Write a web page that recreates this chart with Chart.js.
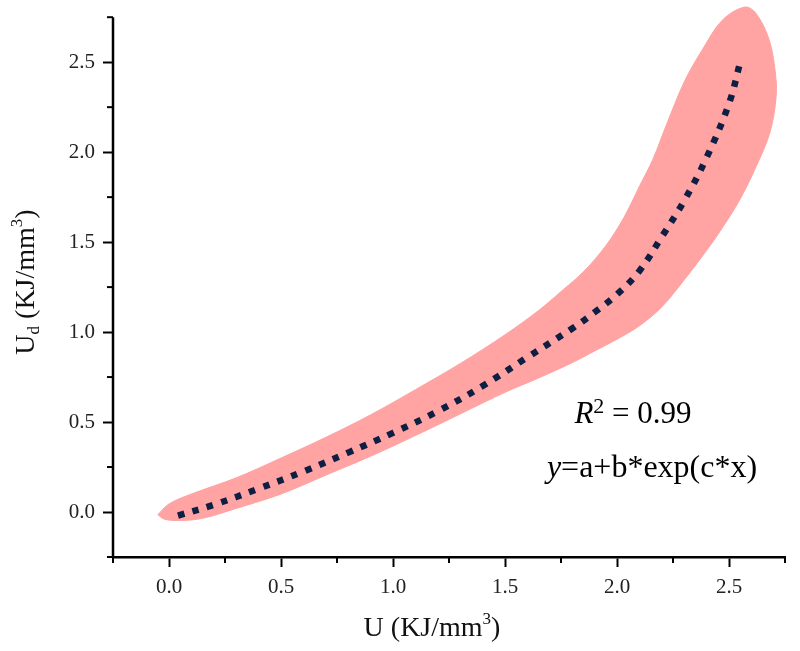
<!DOCTYPE html>
<html>
<head>
<meta charset="utf-8">
<script src="https://cdn.jsdelivr.net/npm/chart.js@4/dist/chart.umd.min.js"></script>
<style>
  html, body { margin: 0; padding: 0; background: #fff; }
  #wrap { width: 800px; height: 651px; }
</style>
</head>
<body>
<div id="wrap"><canvas id="fitChart"></canvas></div>
<script>
// fitted curve y = a + b*exp(c*x)
const fitX = [0.04, 0.2, 0.4, 0.6, 0.8, 1.0, 1.2, 1.4, 1.6, 1.8, 1.9, 2.0, 2.1, 2.2, 2.3, 2.4, 2.5, 2.55];
const fitY = [-0.02, 0.04, 0.13, 0.225, 0.33, 0.44, 0.56, 0.7, 0.86, 1.02, 1.11, 1.21, 1.34, 1.53, 1.73, 1.97, 2.27, 2.5];

// outline of the shaded band, going round it (upper edge, right end, lower edge)
const bandX = [-0.05, 0.0, 0.1, 0.3, 0.5, 0.7, 0.9, 1.1, 1.3, 1.5, 1.65, 1.75, 1.85, 1.95, 2.03, 2.1, 2.16, 2.22, 2.3, 2.38, 2.47, 2.57,
  2.62, 2.68, 2.709, 2.709, 2.682, 2.62, 2.55, 2.46, 2.38, 2.3, 2.2, 2.1, 2.0, 1.9, 1.8, 1.65, 1.5, 1.3, 1.1, 0.9, 0.7, 0.5, 0.3, 0.15, 0.05, -0.02, -0.05];
const bandY = [-0.015, 0.045, 0.1, 0.19, 0.3, 0.415, 0.54, 0.68, 0.825, 0.985, 1.12, 1.225, 1.335, 1.48, 1.635, 1.81, 1.96, 2.15, 2.39, 2.567, 2.733, 2.806,
  2.772, 2.622, 2.417, 2.289, 2.106, 1.917, 1.74, 1.56, 1.42, 1.29, 1.14, 1.035, 0.96, 0.895, 0.83, 0.745, 0.665, 0.545, 0.425, 0.31, 0.205, 0.1, 0.02, -0.035, -0.047, -0.04, -0.015];

const xTicks = [0, 0.5, 1.0, 1.5, 2.0, 2.5];
const yTicks = [0, 0.5, 1.0, 1.5, 2.0, 2.5];
const minorTicks = [-0.25, 0.25, 0.75, 1.25, 1.75, 2.25, 2.75];

const serif = "'Liberation Serif', 'Times New Roman', serif";

function drawParts(ctx, parts, x, y) {
  let total = 0;
  parts.forEach((p) => {
    ctx.font = (p.style || "") + " " + p.size + "px " + (p.family || serif);
    p.w = ctx.measureText(p.t).width;
    total += p.w;
  });
  let cx = x - total / 2;
  parts.forEach((p) => {
    ctx.font = (p.style || "") + " " + p.size + "px " + (p.family || serif);
    ctx.fillText(p.t, cx, y + (p.dy || 0));
    cx += p.w;
  });
}

const decorPlugin = {
  id: "decor",
  afterDraw(chart) {
    const ctx = chart.ctx;
    const xs = chart.scales.x;
    const ys = chart.scales.y;
    const area = chart.chartArea;
    ctx.save();
    ctx.strokeStyle = "#000";

    // y axis line stops at 2.75
    ctx.lineWidth = 2.5;
    ctx.beginPath();
    ctx.moveTo(area.left, area.bottom + 1);
    ctx.lineTo(area.left, ys.getPixelForValue(2.75));
    ctx.stroke();

    ctx.lineWidth = 2;
    minorTicks.forEach((v) => {
      const px = xs.getPixelForValue(v);
      ctx.beginPath();
      ctx.moveTo(px, area.bottom);
      ctx.lineTo(px, area.bottom + 6);
      ctx.stroke();
      const py = ys.getPixelForValue(v);
      ctx.beginPath();
      ctx.moveTo(area.left, py);
      ctx.lineTo(area.left - 6, py);
      ctx.stroke();
    });

    ctx.fillStyle = "#111";
    ctx.textBaseline = "alphabetic";
    // x title
    drawParts(ctx, [
      { t: "U (KJ/mm", size: 28 },
      { t: "3", size: 17, dy: -12 },
      { t: ")", size: 28 },
    ], 432, 636);

    // y title
    ctx.save();
    ctx.translate(34, 282);
    ctx.rotate(-Math.PI / 2);
    drawParts(ctx, [
      { t: "U", size: 28 },
      { t: "d", size: 17, dy: 5 },
      { t: " (KJ/mm", size: 28 },
      { t: "3", size: 17, dy: -12 },
      { t: ")", size: 28 },
    ], 0, 0);
    ctx.restore();

    // fit annotation
    ctx.fillStyle = "#000";
    drawParts(ctx, [
      { t: "R", size: 31, style: "italic" },
      { t: "2", size: 22, dy: -10 },
      { t: " = 0.99", size: 31 },
    ], 633, 423);
    drawParts(ctx, [
      { t: "y", size: 32, style: "italic" },
      { t: "=a+b*exp(c*x)", size: 32 },
    ], 652, 477);
    ctx.restore();
  },
};

const fitChart = new Chart(document.getElementById("fitChart"), {
  type: "scatter",
  data: {
    datasets: [
      {
        label: "fit",
        data: fitX.map((x, i) => ({ x: x, y: fitY[i] })),
        showLine: true,
        borderColor: "#0e1f44",
        borderWidth: 6.5,
        borderDash: [6.5, 8.5],
        borderCapStyle: "butt",
        pointRadius: 0,
        tension: 0.4,
        order: 0,
      },
      {
        label: "band",
        data: bandX.map((x, i) => ({ x: x, y: bandY[i] })),
        showLine: true,
        fill: "shape",
        backgroundColor: "#ffa3a3",
        borderColor: "#ffa3a3",
        borderWidth: 1,
        pointRadius: 0,
        tension: 0.35,
        clip: false,
        order: 1,
      },
    ],
  },
  options: {
    responsive: true,
    maintainAspectRatio: false,
    animation: false,
    layout: { padding: { left: 0, top: 1, right: 15, bottom: 0 } },
    scales: {
      x: {
        type: "linear",
        min: -0.25,
        max: 2.75,
        afterBuildTicks: (s) => { s.ticks = xTicks.map((v) => ({ value: v })); },
        afterFit: (s) => { s.height = 94; s.paddingLeft = 0; s.paddingRight = 0; },
        border: { display: true, color: "#000", width: 2.5 },
        grid: { drawOnChartArea: false, tickLength: 10, tickWidth: 2, tickColor: "#000" },
        ticks: {
          padding: 8,
          color: "#222",
          font: { family: serif, size: 21 },
          callback: (v) => Number(v).toFixed(1),
        },
      },
      y: {
        type: "linear",
        min: -0.25,
        max: 2.84,
        afterBuildTicks: (s) => { s.ticks = yTicks.map((v) => ({ value: v })); },
        afterFit: (s) => { s.width = 113; s.paddingTop = 0; s.paddingBottom = 0; },
        border: { display: false },
        grid: { drawOnChartArea: false, tickLength: 10, tickWidth: 2, tickColor: "#000" },
        ticks: {
          padding: 8,
          color: "#222",
          font: { family: serif, size: 21 },
          callback: (v) => Number(v).toFixed(1),
        },
      },
    },
    plugins: {
      legend: { display: false },
      tooltip: { enabled: false },
    },
  },
  plugins: [decorPlugin],
});
</script>
</body>
</html>
